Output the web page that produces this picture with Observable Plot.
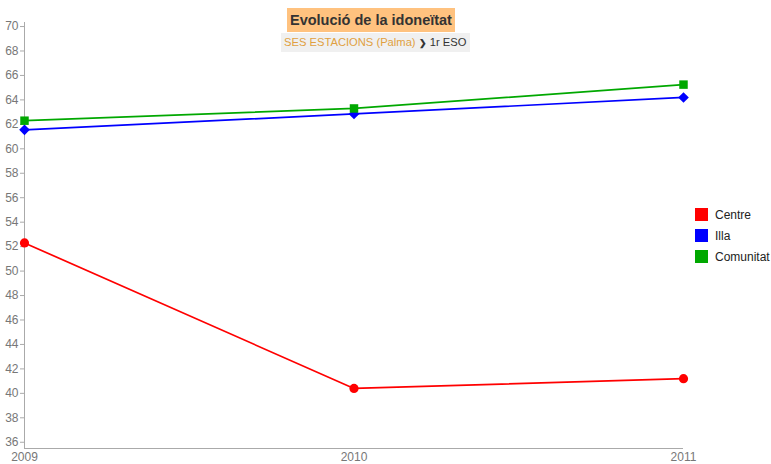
<!DOCTYPE html>
<html>
<head>
<meta charset="utf-8">
<script src="https://cdn.jsdelivr.net/npm/d3@7"></script>
<script src="https://cdn.jsdelivr.net/npm/@observablehq/plot@0.6"></script>
<style>
  html, body { margin: 0; padding: 0; background: #fff; }
  #wrap { position: relative; width: 771px; height: 464px; font-family: "Liberation Sans", Arial, sans-serif; }
  #title { position: absolute; left: 287px; top: 8px; height: 24px; line-height: 24px; padding: 0 3px;
           background: #FFC27F; color: #333; font-weight: bold; font-size: 14.5px; }
  #subtitle { position: absolute; left: 281px; top: 33px; height: 19px; line-height: 19px; padding: 0 3px;
              background: #F0F0F0; font-size: 11.2px; color: #333; white-space: nowrap; }
  #subtitle .place { color: #E0A040; }
  #legend { position: absolute; left: 695px; top: 204px; font-size: 12px; color: #222; }
  #legend .item { display: flex; align-items: center; height: 21px; }
  #legend .sw { width: 13px; height: 13px; margin-right: 7px; }
  svg { position: absolute; left: 0; top: 0; }
</style>
</head>
<body>
<div id="wrap">
  <div id="chart"></div>
  <div id="title">Evolució de la idoneïtat</div>
  <div id="subtitle"><span class="place">SES ESTACIONS (Palma)</span> <b style="font-size:9px">❯</b> 1r ESO</div>
  <div id="legend"></div>
</div>
<script>
const years = [2009, 2010, 2011];
const seriesNames = ["Centre", "Illa", "Comunitat"];
const seriesColors = ["#FF0000", "#0000FF", "#00A800"];
const seriesSymbols = ["circle", "diamond2", "square2"];
const centre = [52.3, 40.4, 41.2];
const illa = [61.55, 62.85, 64.2];
const comunitat = [62.3, 63.3, 65.25];
const yTicks = d3.range(36, 71, 2);

const valuesBySeries = [centre, illa, comunitat];
const markerR = [4.6, 4.8, 5.4];
const data = [];
seriesNames.forEach((s, i) => years.forEach((y, j) => data.push({series: s, year: y, value: valuesBySeries[i][j]})));

const color = {domain: seriesNames, range: seriesColors};

const plot = Plot.plot({
  width: 771,
  height: 464,
  marginLeft: 24,
  marginRight: 88,
  marginTop: 22,
  marginBottom: 16,
  style: {fontFamily: "Liberation Sans, Arial, sans-serif", fontSize: "12px", color: "#777", background: "transparent"},
  x: {domain: [2009, 2011], ticks: years, tickFormat: d => String(d), label: null},
  y: {domain: [35.49, 70.33], ticks: yTicks, label: null},
  color,
  symbol: {domain: seriesNames, range: seriesSymbols},
  marks: [
    Plot.ruleX([2009], {stroke: "#aaa"}),
    Plot.ruleY([35.49], {stroke: "#aaa"}),
    Plot.axisY({ticks: yTicks, tickSize: 4, tickPadding: 2, stroke: "#aaa", fill: "#777", fontSize: 12}),
    Plot.axisX({ticks: years, tickSize: 0, tickPadding: 4, fill: "#777", fontSize: 12, tickFormat: d => String(d)}),
    Plot.line(data, {x: "year", y: "value", z: "series", stroke: "series", strokeWidth: 1.7}),
    ...seriesNames.map((s, i) =>
      Plot.dot(data.filter(d => d.series === s), {x: "year", y: "value", fill: "series", symbol: "series", r: markerR[i], stroke: null}))
  ]
});
document.getElementById("chart").appendChild(plot);

const legend = document.getElementById("legend");
seriesNames.forEach((s, i) => {
  const it = document.createElement("div");
  it.className = "item";
  it.innerHTML = `<div class="sw" style="background:${seriesColors[i]}"></div><span>${s}</span>`;
  legend.appendChild(it);
});
</script>
</body>
</html>
